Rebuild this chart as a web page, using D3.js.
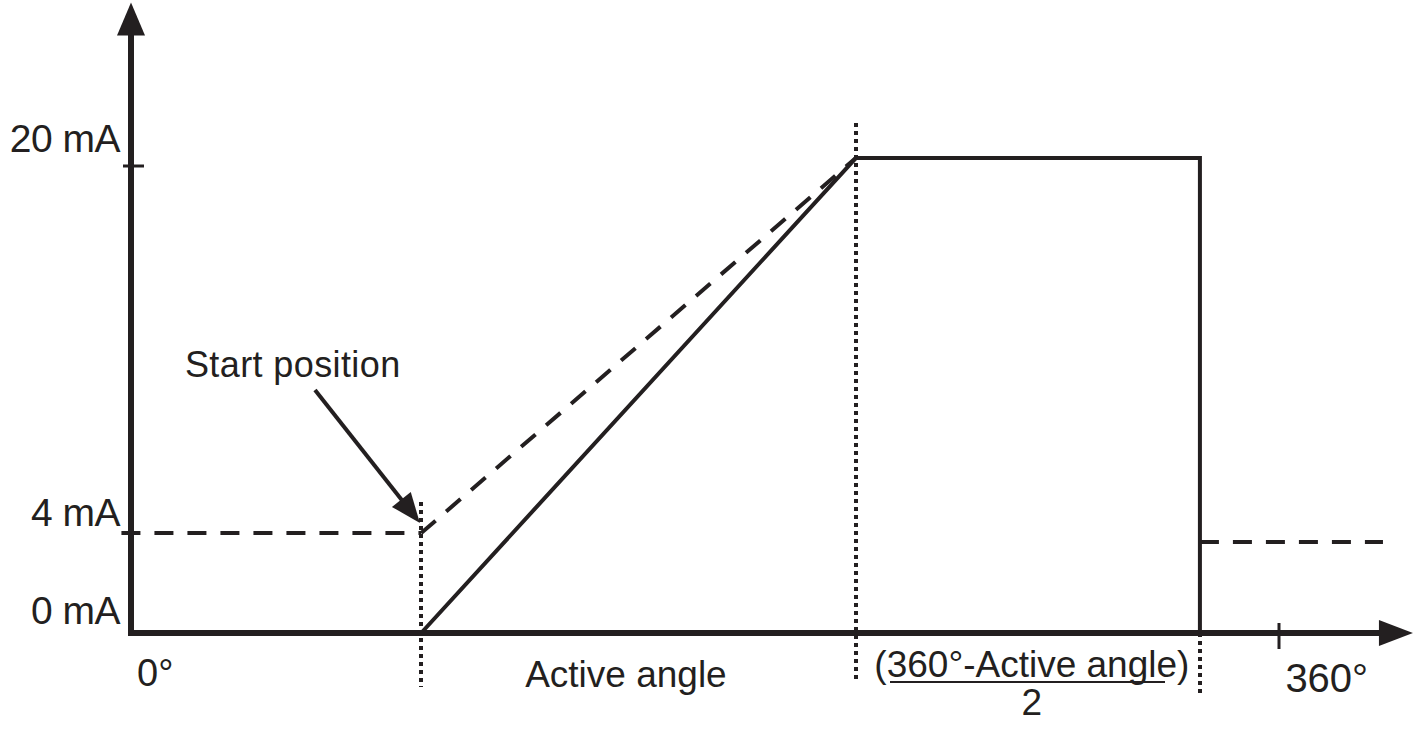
<!DOCTYPE html>
<html>
<head>
<meta charset="utf-8">
<script src="https://cdn.jsdelivr.net/npm/d3@7"></script>
<style>
  html, body { margin: 0; padding: 0; background: #fff; }
  svg { display: block; }
  text { font-family: "Liberation Sans", Arial, Helvetica, sans-serif; fill: #231f20; }
</style>
</head>
<body>
<svg id="chart" width="1417" height="729"></svg>
<script>
// ---- data (degrees on x, mA on y) ----
const xDomain = [0, 360];
const yDomain = [0, 20];
const xAxisEnd = 402;          // arrow tip of x axis (deg)
const yAxisEnd = 27;           // arrow tip of y axis (mA)

const solidX = [91, 227.3, 335.2, 335.2];
const solidY = [0, 20.34, 20.34, 0];

const dashLeftX = [-3, 91];
const dashLeftY = [4.28, 4.28];
const dashRampX = [91, 227.3];
const dashRampY = [4.28, 20.34];
const dashRightX = [335.2, 392.6];
const dashRightY = [3.9, 3.9];

const dottedX = [91, 227.3, 335.2];
const dottedTop = [5.6, 21.85, 0];
const dottedBottom = [-2.31, -2.14, -2.57];

const yTickValues = [20, 4, 0];
const yTickLabels = ["20 mA", "4 mA", "0 mA"];
const yTickMarks = [20];
const xTickMarks = [360];
const xTickLabels = ["0°", "360°"];
const xTickLabelPos = [1.9, 362];

const regionLabels = ["Active angle", "(360°-Active angle)", "2"];
const regionLabelX = [155.2, 282.5, 282.5];
const regionLabelY = [-2.3, -1.88, -3.51];

const annotText = "Start position";
const annotTextPos = [16.9, 10.96];
const annotFrom = [57.7, 10.41];
const annotTo = [90.6, 4.71];

// ---- scales ----
const x = d3.scaleLinear().domain(xDomain).range([131, 1279]);
const y = d3.scaleLinear().domain(yDomain).range([633, 166]);

const ink = "#231f20";
const svg = d3.select("#chart");
const line = d3.line().x(d => x(d[0])).y(d => y(d[1]));
const zip = (a, b) => a.map((v, i) => [v, b[i]]);

// dotted guides
dottedX.forEach((v, i) => {
  const px = Math.round(x(v));
  svg.append("line")
    .attr("x1", px).attr("x2", px)
    .attr("y1", y(dottedTop[i])).attr("y2", y(dottedBottom[i]))
    .attr("stroke", ink).attr("stroke-width", 4)
    .attr("shape-rendering", "crispEdges")
    .attr("stroke-dasharray", "4,4");
});

// dashed lines
[[dashLeftX, dashLeftY], [dashRampX, dashRampY], [dashRightX, dashRightY]].forEach(([xs, ys]) => {
  svg.append("path").attr("d", line(zip(xs, ys)))
    .attr("fill", "none").attr("stroke", ink).attr("stroke-width", 4)
    .attr("stroke-dasharray", "19,14");
});

// solid curve
svg.append("path").attr("d", line(zip(solidX, solidY)))
  .attr("fill", "none").attr("stroke", ink).attr("stroke-width", 4)
  .attr("stroke-linejoin", "miter");

// axes
svg.append("line").attr("x1", x(0)).attr("x2", x(0))
  .attr("y1", y(0) + 3).attr("y2", y(yAxisEnd) + 30)
  .attr("stroke", ink).attr("stroke-width", 6);
svg.append("path")
  .attr("d", `M${x(0)},${y(yAxisEnd)} L${x(0) - 14},${y(yAxisEnd) + 33} L${x(0) + 14},${y(yAxisEnd) + 33} Z`)
  .attr("fill", ink);
svg.append("line").attr("x1", x(0) - 3).attr("x2", x(xAxisEnd) - 30)
  .attr("y1", y(0)).attr("y2", y(0))
  .attr("stroke", ink).attr("stroke-width", 6);
svg.append("path")
  .attr("d", `M${x(xAxisEnd)},${y(0)} L${x(xAxisEnd) - 34},${y(0) - 13} L${x(xAxisEnd) - 34},${y(0) + 13} Z`)
  .attr("fill", ink);

// tick marks
yTickMarks.forEach(v => {
  svg.append("line").attr("x1", x(0) - 8).attr("x2", x(0) + 13)
    .attr("y1", y(v)).attr("y2", y(v))
    .attr("stroke", ink).attr("stroke-width", 3);
});
xTickMarks.forEach(v => {
  svg.append("line").attr("x1", x(v)).attr("x2", x(v))
    .attr("y1", y(0) - 10).attr("y2", y(0) + 16)
    .attr("stroke", ink).attr("stroke-width", 3);
});

// y tick labels
const yLabelOffset = [14, 14, 9];
yTickValues.forEach((v, i) => {
  svg.append("text").attr("x", 120).attr("y", y(v) - yLabelOffset[i])
    .attr("text-anchor", "end").attr("font-size", 39)
    .attr("letter-spacing", -0.5)
    .text(yTickLabels[i]);
});

// x tick labels
const xLabelBase = [686, 692];
const xLabelSize = [38, 40];
xTickLabels.forEach((t, i) => {
  svg.append("text").attr("x", x(xTickLabelPos[i])).attr("y", xLabelBase[i])
    .attr("font-size", xLabelSize[i]).text(t);
});

// region labels
regionLabels.forEach((t, i) => {
  svg.append("text").attr("x", x(regionLabelX[i])).attr("y", y(regionLabelY[i]))
    .attr("text-anchor", "middle").attr("font-size", 37).text(t);
});
// fraction bar (underline of numerator)
svg.append("line").attr("x1", 890).attr("x2", 1165).attr("y1", 682).attr("y2", 682)
  .attr("stroke", ink).attr("stroke-width", 2);

// annotation
svg.append("text").attr("x", x(annotTextPos[0])).attr("y", y(annotTextPos[1]))
  .attr("font-size", 36).attr("letter-spacing", 0.4).text(annotText);
const ax1 = x(annotFrom[0]), ay1 = y(annotFrom[1]);
const ax2 = x(annotTo[0]), ay2 = y(annotTo[1]);
const ang = Math.atan2(ay2 - ay1, ax2 - ax1);
const hl = 30, hw = 12;
const bx = ax2 - hl * Math.cos(ang), by = ay2 - hl * Math.sin(ang);
svg.append("line").attr("x1", ax1).attr("y1", ay1).attr("x2", bx + 2 * Math.cos(ang)).attr("y2", by + 2 * Math.sin(ang))
  .attr("stroke", ink).attr("stroke-width", 4);
svg.append("path")
  .attr("d", `M${ax2},${ay2} L${bx - hw * Math.sin(ang)},${by + hw * Math.cos(ang)} L${bx + hw * Math.sin(ang)},${by - hw * Math.cos(ang)} Z`)
  .attr("fill", ink);
</script>
</body>
</html>
